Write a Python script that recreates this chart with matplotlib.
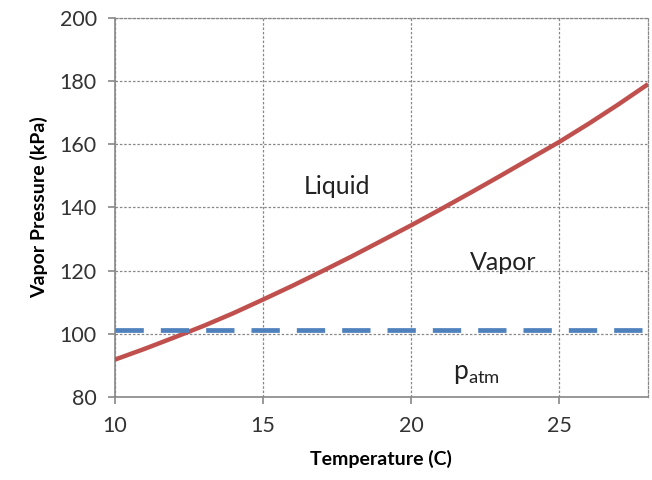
import matplotlib.pyplot as plt

# vapor pressure curve
temp = [10, 11, 12, 13, 14, 15, 16, 17, 18, 19, 20, 21, 22, 23, 24, 25, 26, 27, 28]
pvap = [91.8, 95.2, 98.8, 102.5, 106.5, 110.8, 115.2, 119.8, 124.5, 129.4,
        134.3, 139.4, 144.6, 149.9, 155.3, 160.7, 166.5, 172.6, 179.0]
patm = 101.3

xticks = [10, 15, 20, 25]
yticks = [80, 100, 120, 140, 160, 180, 200]

plt.rcParams['font.family'] = ['Lato', 'DejaVu Sans']

fig = plt.figure(figsize=(6.52, 4.8), dpi=100)
ax = fig.add_axes([0.176, 0.173, 0.818, 0.79])

ax.plot(temp, pvap, color='#C0504D', lw=3.2, solid_capstyle='butt', zorder=3)
ax.plot([temp[0], temp[-1]], [patm, patm], color='#4F81BD', lw=3.4,
        dashes=(6, 3.6), zorder=3)

ax.set_xlim(10, 28)
ax.set_ylim(80, 200)
ax.set_xticks(xticks)
ax.set_yticks(yticks)
ax.grid(True, color='#888888', ls=(0, (2, 1.5)), lw=0.9)

for s in ['left', 'bottom']:
    ax.spines[s].set_color('#888888')
    ax.spines[s].set_linewidth(1.2)
for s in ['top', 'right']:
    ax.spines[s].set_color('#888888')
    ax.spines[s].set_linestyle((0, (2, 1.5)))
    ax.spines[s].set_linewidth(0.9)

ax.tick_params(colors='#888888', labelcolor='#333333', labelsize=15.5, length=5,
               width=1.2)
ax.tick_params(axis='x', pad=9)
ax.tick_params(axis='y', pad=8)

ax.set_xlabel('Temperature (C)', fontsize=14, fontweight='bold', labelpad=10)
ax.set_ylabel('Vapor Pressure (kPa)', fontsize=14, fontweight='bold', labelpad=8)

ax.text(17.5, 146.5, 'Liquid', fontsize=18, ha='center', va='center', color='#222222')
ax.text(23.1, 122.5, 'Vapor', fontsize=18, ha='center', va='center', color='#222222')
ax.text(22.2, 87.5, r'p$_{\mathregular{atm}}$', fontsize=19, ha='center', va='center',
        color='#222222')

fig.savefig('out.png', dpi=100)
